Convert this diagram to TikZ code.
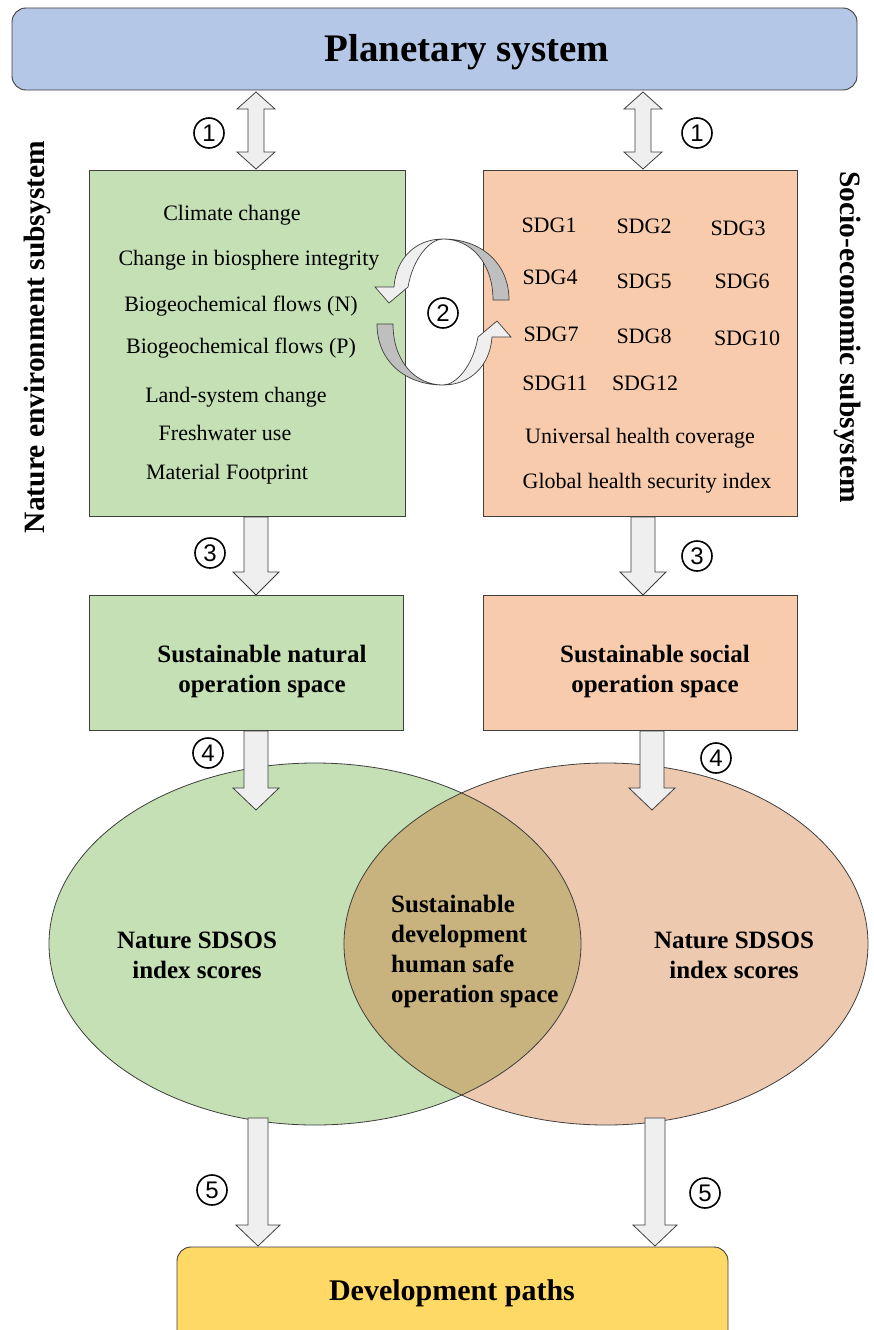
\documentclass[tikz,border=0pt]{standalone}
\usepackage{fontspec}
\setmainfont{Liberation Serif}
\newfontfamily\numfont{Liberation Sans}
\definecolor{bluebox}{HTML}{B4C7E7}
\definecolor{greenbox}{HTML}{C5E0B4}
\definecolor{orangebox}{HTML}{F8CBAD}
\definecolor{orangeell}{HTML}{ECC9AF}
\definecolor{overlapc}{HTML}{C8B27E}
\definecolor{goldbox}{HTML}{FFD966}
\definecolor{arrowfill}{HTML}{EFEFEF}
\definecolor{darkarc}{HTML}{BFBFBF}
\definecolor{edgec}{HTML}{3F3F3F}
\newcommand{\blkdown}[6]{\draw[blk] (#1-#4,#2) -- (#1-#4,#3-#6) -- (#1-#5,#3-#6) -- (#1,#3) -- (#1+#5,#3-#6) -- (#1+#4,#3-#6) -- (#1+#4,#2) -- cycle;}
\newcommand{\blkboth}[6]{\draw[blk] (#1,#2) -- (#1+#5,#2+#6) -- (#1+#4,#2+#6) -- (#1+#4,#3-#6) -- (#1+#5,#3-#6) -- (#1,#3) -- (#1-#5,#3-#6) -- (#1-#4,#3-#6) -- (#1-#4,#2+#6) -- (#1-#5,#2+#6) -- cycle;}
\newcommand{\cyclehalf}{%
 \filldraw[fill=darkarc, draw=edgec, line width=0.7pt] (509,300) .. controls (509,263) and (481,239) .. (443,239) .. controls (471,239) and (493,263) .. (493,300) -- cycle;
 \filldraw[fill=arrowfill, draw=edgec, line width=0.7pt] (443,239) .. controls (416,239) and (396,258) .. (394,287) -- (375,287) -- (389,303) -- (408,287) .. controls (413,258) and (430,239) .. (443,239) -- cycle;}
\tikzset{
 box/.style={draw=edgec, line width=0.9pt, inner sep=0pt, outer sep=0pt},
 blk/.style={draw=edgec, line width=0.8pt, fill=arrowfill, line join=miter},
 item/.style={font=\fontsize{22}{26}\selectfont, inner sep=0pt, text height=0.64em, text depth=0.04em},
 headl/.style={font=\bfseries\fontsize{25}{30}\selectfont, align=center, inner sep=0pt},
 num/.style={circle, draw=black, line width=1.6pt, minimum size=30pt, inner sep=0pt, font=\numfont\fontsize{24}{24}\selectfont},
 vlab/.style={font=\bfseries\fontsize{29.5}{32}\selectfont, inner sep=0pt, text height=0.66em, text depth=0.2em}
}
\begin{document}
\begin{tikzpicture}[x=1pt,y=-1pt]
\useasboundingbox (0,0) rectangle (873,1330);
\fill[white] (0,0) rectangle (873,1330);
% top box
\node[box, fill=bluebox, rounded corners=14pt, minimum width=845pt, minimum height=82pt] (planet) at (434.5,49) {};
\node[font=\bfseries\fontsize{39}{44}\selectfont, inner sep=0pt] (planetlbl) at (467,52) {Planetary system};
% subsystem boxes
\node[box, fill=greenbox, minimum width=316pt, minimum height=346pt] (nat) at (247,343) {};
\node[box, fill=orangebox, minimum width=314pt, minimum height=346pt] (soc) at (640,343) {};
% side labels
\node[vlab, rotate=90] (natlbl) at (42,337) {Nature environment subsystem};
\node[vlab, rotate=-90] (soclbl) at (843,337) {Socio-economic subsystem};
% green items
\node[item] (g1) at (232,217) {Climate change};
\node[item] (g2) at (249,262) {Change in biosphere integrity};
\node[item] (g3) at (241,308) {Biogeochemical flows (N)};
\node[item] (g4) at (241,350) {Biogeochemical flows (P)};
\node[item] (g5) at (236,399) {Land-system change};
\node[item] (g6) at (225,437) {Freshwater use};
\node[item] (g7) at (227,476) {Material Footprint};
% orange items
\node[item] (s1) at (549,229) {SDG1};
\node[item] (s2) at (644,230) {SDG2};
\node[item] (s3) at (738,232) {SDG3};
\node[item] (s4) at (550,281) {SDG4};
\node[item] (s5) at (644,285) {SDG5};
\node[item] (s6) at (742,285) {SDG6};
\node[item] (s7) at (551,338) {SDG7};
\node[item] (s8) at (644,340) {SDG8};
\node[item] (s10) at (747,342) {SDG10};
\node[item] (s11) at (555,387) {SDG11};
\node[item] (s12) at (645,387) {SDG12};
\node[item] (uhc) at (640,440) {Universal health coverage};
\node[item] (ghs) at (647,485) {Global health security index};
% cycle arrows
\cyclehalf
\begin{scope}[rotate around={180:(443,312)}]
\cyclehalf
\end{scope}
\node[num] (n2) at (443,313) {2};
% operation space boxes
\node[box, fill=greenbox, minimum width=314pt, minimum height=135pt] (natop) at (246.5,662.5) {};
\node[box, fill=orangebox, minimum width=314pt, minimum height=135pt] (socop) at (640,662.5) {};
\node[headl] (natoplbl) at (262,671) {Sustainable natural\\operation space};
\node[headl] (socoplbl) at (655,671) {Sustainable social\\operation space};
% ellipses
\fill[greenbox] (315,944) ellipse [x radius=266, y radius=181];
\fill[orangeell] (606,944) ellipse [x radius=262, y radius=181];
\begin{scope}
\clip (315,944) ellipse [x radius=266, y radius=181];
\fill[overlapc] (606,944) ellipse [x radius=262, y radius=181];
\end{scope}
\draw[edgec, line width=0.8pt] (315,944) ellipse [x radius=266, y radius=181];
\draw[edgec, line width=0.8pt] (606,944) ellipse [x radius=262, y radius=181];
\coordinate (gell) at (315,944);
\coordinate (oell) at (606,944);
\node[headl] (gelllbl) at (197,955) {Nature SDSOS\\index scores};
\node[headl] (oelllbl) at (734,955) {Nature SDSOS\\index scores};
\node[headl, align=left, anchor=west] (midlbl) at (391,951) {Sustainable\\development\\human safe\\operation space};
% bottom box
\node[box, fill=goldbox, rounded corners=14pt, minimum width=551pt, minimum height=110pt, anchor=north west] (dev) at (177,1247) {};
\node[font=\bfseries\fontsize{30}{34}\selectfont, inner sep=0pt] (devlbl) at (452,1293) {Development paths};
% block arrows
\blkboth{256}{92}{169}{8}{19}{17}
\blkboth{643}{92}{169}{8}{19}{17}
\blkdown{256}{517}{595}{12}{23}{23}
\blkdown{643}{517}{595}{12}{23}{23}
\blkdown{256}{731}{810}{12}{23}{22}
\blkdown{652}{731}{810}{12}{23}{22}
\blkdown{258}{1118}{1246}{10}{22}{21}
\blkdown{655}{1118}{1246}{10}{22}{21}
% numbers
\node[num] (n1a) at (209,133) {1};
\node[num] (n1b) at (697,133) {1};
\node[num] (n3a) at (210,553) {3};
\node[num] (n3b) at (697,556) {3};
\node[num] (n4a) at (208,753) {4};
\node[num] (n4b) at (716,758) {4};
\node[num] (n5a) at (212,1190) {5};
\node[num] (n5b) at (705,1193) {5};
\end{tikzpicture}
\end{document}
